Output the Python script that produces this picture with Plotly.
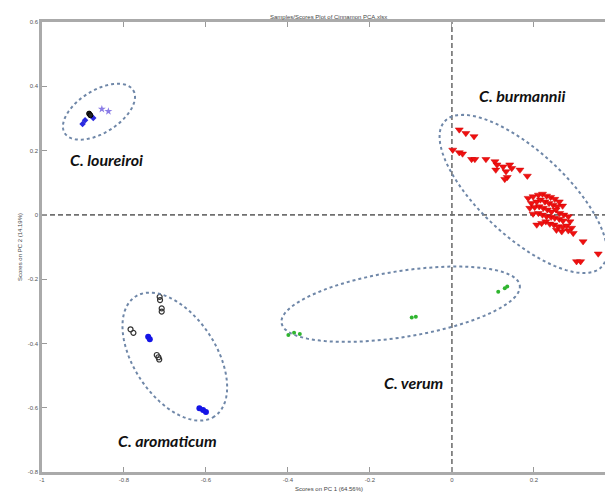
import numpy as np
import plotly.graph_objects as go

# ---------------- data (PCA scores) ----------------
burm_x = [0.018, 0.034, 0.054, 0.002, 0.018, 0.026, 0.048, 0.056, 0.083, 0.105,
          0.110, 0.125, 0.141, 0.146, 0.107, 0.132, 0.135, 0.129, 0.166, 0.184,
          0.186, 0.198, 0.211, 0.221, 0.231, 0.241, 0.251, 0.262, 0.270, 0.194,
          0.207, 0.216, 0.227, 0.237, 0.247, 0.257, 0.190, 0.202, 0.213, 0.223,
          0.233, 0.243, 0.254, 0.263, 0.273, 0.198, 0.211, 0.221, 0.231, 0.242,
          0.251, 0.262, 0.271, 0.284, 0.288, 0.207, 0.219, 0.229, 0.239, 0.249,
          0.259, 0.270, 0.280, 0.292, 0.296, 0.284, 0.255, 0.268,
          0.320, 0.357, 0.304, 0.314]
burm_y = [0.265, 0.254, 0.244, 0.202, 0.194, 0.190, 0.173, 0.173, 0.173, 0.166,
          0.156, 0.150, 0.156, 0.145, 0.140, 0.135, 0.117, 0.111, 0.140, 0.121,
          0.052, 0.057, 0.062, 0.065, 0.059, 0.055, 0.049, 0.041, 0.028, 0.036,
          0.041, 0.047, 0.041, 0.036, 0.031, 0.026, 0.021, 0.024, 0.026, 0.021,
          0.016, 0.010, 0.016, 0.005, 0.000, 0.003, 0.005, 0.000, -0.005, -0.007,
          -0.010, -0.013, -0.018, -0.005, -0.021, -0.031, -0.026, -0.021, -0.028, -0.031,
          -0.036, -0.038, -0.034, -0.041, -0.057, -0.049, -0.047, -0.052,
          -0.083, -0.121, -0.145, -0.145]

lour_blue_x = [-0.875, -0.895, -0.901]
lour_blue_y = [0.301, 0.294, 0.283]
lour_purple_x = [-0.854, -0.838]
lour_purple_y = [0.329, 0.322]
lour_black_x = [-0.885, -0.882]
lour_black_y = [0.315, 0.310]

arom_black_x = [-0.713, -0.712, -0.708, -0.708, -0.784, -0.777, -0.720, -0.716, -0.714]
arom_black_y = [-0.255, -0.265, -0.291, -0.301, -0.356, -0.367, -0.436, -0.443, -0.450]
arom_blue_x = [-0.741, -0.737, -0.616, -0.607, -0.600]
arom_blue_y = [-0.379, -0.387, -0.602, -0.607, -0.613]

verum_x = [-0.399, -0.385, -0.371, -0.098, -0.088, 0.113, 0.129, 0.135]
verum_y = [-0.374, -0.367, -0.371, -0.319, -0.317, -0.239, -0.228, -0.223]

x_ticks = [-1, -0.8, -0.6, -0.4, -0.2, 0, 0.2, 0.4]
x_tick_labels = ["-1", "-0.8", "-0.6", "-0.4", "-0.2", "0", "0.2", "0.4"]
y_ticks = [0.6, 0.4, 0.2, 0, -0.2, -0.4, -0.6, -0.8]
y_tick_labels = ["0.6", "0.4", "0.2", "0", "-0.2", "-0.4", "-0.6", "-0.8"]

group_names = ["C. burmannii", "C. loureiroi", "C. aromaticum", "C. verum"]
label_x = [0.171, -0.843, -0.693, -0.094]
label_y = [0.371, 0.171, -0.701, -0.523]

# ellipses: centre (data units), semi-axes (px), tilt (deg, screen)
ell_cx = [0.174, -0.861, -0.676, -0.125]
ell_cy = [0.065, 0.321, -0.441, -0.278]
ell_a = [107, 40.4, 71.8, 120.6]
ell_b = [42.6, 21.2, 41, 33]
ell_ang = [42.8, -32.1, 56.5, -9]

# ---------------- figure ----------------
# page body has an 8px margin: figure is sized so the plot fills the window
W, H = 605, 486
ML, MR, MT, MB = 34, 0, 14, 22
XR = [-1, 0.393]
YR = [-0.8, 0.6]
sx = (W - ML - MR) / (XR[1] - XR[0])
sy = (H - MT - MB) / (YR[1] - YR[0])

fig = go.Figure()

fig.add_trace(go.Scatter(x=burm_x, y=burm_y, mode="markers",
                         marker=dict(symbol="triangle-down", size=7, color="#f01010",
                                     line=dict(width=0.5, color="#d00000"))))
fig.add_trace(go.Scatter(x=lour_purple_x, y=lour_purple_y, mode="markers",
                         marker=dict(symbol="star", size=6, color="#8a7ce6")))
fig.add_trace(go.Scatter(x=lour_blue_x, y=lour_blue_y, mode="markers",
                         marker=dict(symbol="diamond", size=5, color="#2a2ae0")))
fig.add_trace(go.Scatter(x=lour_black_x, y=lour_black_y, mode="markers",
                         marker=dict(symbol="circle", size=5, color="#222222",
                                     line=dict(width=1, color="#000000"))))
fig.add_trace(go.Scatter(x=arom_black_x, y=arom_black_y, mode="markers",
                         marker=dict(symbol="circle-open", size=5, color="#333333",
                                     line=dict(width=1.2))))
fig.add_trace(go.Scatter(x=arom_blue_x, y=arom_blue_y, mode="markers",
                         marker=dict(symbol="circle", size=6, color="#1414e6")))
fig.add_trace(go.Scatter(x=verum_x, y=verum_y, mode="markers",
                         marker=dict(symbol="circle", size=4, color="#2fb52f")))

shapes = [
    dict(type="line", xref="x", yref="y", x0=0, x1=0, y0=YR[0], y1=YR[1],
         line=dict(color="#707070", width=1.6, dash="5px,3px"), layer="below"),
    dict(type="line", xref="x", yref="y", x0=XR[0], x1=XR[1], y0=0, y1=0,
         line=dict(color="#707070", width=1.6, dash="5px,3px"), layer="below"),
]

t = np.linspace(0, 2 * np.pi, 121)
for cx, cy, a, b, ang in zip(ell_cx, ell_cy, ell_a, ell_b, ell_ang):
    th = np.radians(ang)
    dx = a * np.cos(t) * np.cos(th) - b * np.sin(t) * np.sin(th)
    dy = a * np.cos(t) * np.sin(th) + b * np.sin(t) * np.cos(th)
    ex = cx + dx / sx
    ey = cy - dy / sy
    path = "M " + " L ".join(f"{u:.5f},{v:.5f}" for u, v in zip(ex, ey)) + " Z"
    shapes.append(dict(type="path", xref="x", yref="y", path=path,
                       line=dict(color="#6f87a8", width=2, dash="3px,3px")))

annotations = []
for name, lx, ly in zip(group_names, label_x, label_y):
    annotations.append(dict(x=lx, y=ly, xref="x", yref="y", text=f"<b><i>{name}</i></b>",
                            showarrow=False, font=dict(family="Lato", size=16, color="#111111")))

annotations.append(dict(x=-0.3, y=-0.8, xref="x", yref="y", yshift=-17,
                        text="Scores on PC 1 (64.56%)", showarrow=False,
                        font=dict(family="Liberation Sans", size=6, color="#444444")))
annotations.append(dict(x=0, xref="paper", y=-0.1, yref="y", xshift=-27,
                        text="Scores on PC 2 (14.19%)", textangle=-90, showarrow=False,
                        font=dict(family="Liberation Sans", size=6, color="#444444")))

fig.update_layout(
    width=W, height=H,
    margin=dict(l=ML, r=MR, t=MT, b=MB),
    paper_bgcolor="white", plot_bgcolor="white",
    showlegend=False,
    title=dict(text="Samples/Scores Plot of Cinnamon PCA.xlsx", x=0.53, xanchor="center",
               y=1 - 8.5 / H, yanchor="middle",
               font=dict(family="Liberation Sans", size=6, color="#444444")),
    shapes=shapes,
    annotations=annotations,
    xaxis=dict(range=XR, tickvals=x_ticks, ticktext=x_tick_labels, showgrid=False,
               zeroline=False, showline=True, linecolor="#aaaaaa", linewidth=2.5,
               mirror="ticks", ticks="inside", ticklen=5, tickcolor="#999999",
               tickfont=dict(family="Liberation Sans", size=6, color="#555555")),
    yaxis=dict(range=YR, tickvals=y_ticks, ticktext=y_tick_labels, showgrid=False,
               zeroline=False, showline=True, linecolor="#aaaaaa", linewidth=2.5,
               ticks="inside", ticklen=5, tickcolor="#999999",
               tickfont=dict(family="Liberation Sans", size=6, color="#555555")),
)

fig.write_html("out.html")
